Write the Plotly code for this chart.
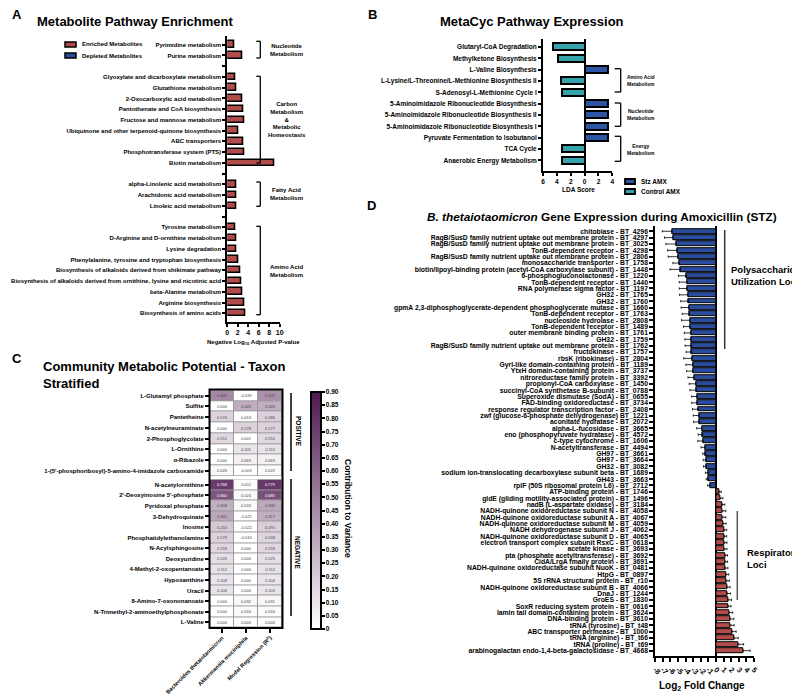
import plotly.graph_objects as go

W, H = 800, 695
FONT = "Arial, 'Liberation Sans', Helvetica, sans-serif"
RED = "#b24c4a"
BLUE = "#2b4c9c"
TEAL = "#36a3ac"
SBLUE = "#2c55a4"

# ---------------- Panel A data ----------------
a_pathways = [
    "Pyrimidine metabolism", "Purine metabolism", " ",
    "Glyoxylate and dicarboxylate metabolism", "Glutathione metabolism",
    "2-Oxocarboxylic acid metabolism", "Pantothenate and CoA biosynthesis",
    "Fructose and mannose metabolism",
    "Ubiquinone and other terpenoid-quinone biosynthesis", "ABC transporters",
    "Phosphotransferase system (PTS)", "Biotin metabolism", "  ",
    "alpha-Linolenic acid metabolism", "Arachidonic acid metabolism",
    "Linoleic acid metabolism", "   ",
    "Tyrosine metabolism", "D-Arginine and D-ornithine metabolism",
    "Lysine degradation", "Phenylalanine, tyrosine and tryptophan biosynthesis",
    "Biosynthesis of alkaloids derived from shikimate pathway",
    "Biosynthesis of alkaloids derived from ornithine, lysine and nicotinic acid",
    "beta-Alanine metabolism", "Arginine biosynthesis", "Biosynthesis of amino acids",
]
a_values = [1.3, 2.8, None, 1.6, 1.7, 2.9, 3.0, 3.15, 2.1, 3.0, 3.2, 9.0, None,
            1.8, 1.8, 1.8, None, 1.5, 1.7, 1.8, 2.1, 2.5, 2.6, 2.8, 3.2, 3.5]
a_ticks = [0, 2, 4, 6, 8, 10]

# ---------------- Panel B data ----------------
b_pathways = [
    "Glutaryl-CoA Degradation", "Methylketone Biosynthesis", "L-Valine Biosynthesis",
    "L-Lysine/L-Threonine/L-Methionine Biosynthesis II", "S-Adenosyl-L-Methionine Cycle I",
    "5-Aminoimidazole Ribonucleotide Biosynthesis",
    "5-Aminoimidazole Ribonucleotide Biosynthesis II",
    "5-Aminoimidazole Ribonucleotide Biosynthesis I",
    "Pyruvate Fermentation to Isobutanol", "TCA Cycle", "Anaerobic Energy Metabolism",
]
b_lda = [-4.6, -3.9, 3.4, -3.4, -3.3, 3.4, 3.4, 3.35, 3.35, -3.3, -3.2]
b_tickvals = [-6, -4, -2, 0, 2, 4]
b_ticktext = ["6", "4", "2", "0", "2", "4"]

# ---------------- Panel C data ----------------
c_columns = ["Bacteroides thetaiotaomicron", "Akkermansia muciniphila",
             "Model Regression (R<sup>2</sup>)"]
c_pos_metabolites = [
    "L-Glutamyl phosphate", "Sulfite", "Pantetheine", "N-acetylneuraminate",
    "2-Phosphoglycolate", "L-Ornithine", "α-Ribazole",
    "1-(5'-phosphoribosyl)-5-amino-4-imidazole carboxamide",
]
c_pos_values = [
    [0.465, -0.039, 0.431], [0.000, 0.320, 0.320], [0.174, 0.013, 0.186],
    [0.000, 0.178, 0.177], [0.151, 0.001, 0.152], [0.000, 0.105, 0.115],
    [0.000, 0.063, 0.063], [0.026, -0.003, 0.022],
]
c_neg_metabolites = [
    "N-acetylornithine", "2'-Deoxyinosine 5'-phosphate", "Pyridoxal phosphate",
    "3-Dehydroquinate", "Inosine", "Phosphatidylethanolamine", "N-Acylsphingosine",
    "Deoxyuridine", "4-Methyl-2-oxopentanoate", "Hypoxanthine", "Uracil",
    "8-Amino-7-oxononanoate", "N-Trimethyl-2-aminoethylphosphonate", "L-Valine",
]
c_neg_values = [
    [0.768, 0.011, 0.779], [0.660, 0.024, 0.685], [0.308, 0.024, 0.339],
    [0.345, -0.025, 0.317], [0.210, -0.022, 0.191], [0.179, -0.010, 0.168],
    [0.159, 0.000, 0.159], [0.126, 0.000, 0.125], [0.112, 0.000, 0.112],
    [0.108, 0.000, 0.104], [0.106, 0.000, 0.103], [0.000, 0.032, 0.031],
    [0.000, 0.016, 0.016], [0.000, 0.003, 0.004],
]
c_cbar_ticks = [round(0.05 * i, 2) for i in range(19)]

# ---------------- Panel D data ----------------
d_genes = [
    "chitobiase - BT_4296",
    "RagB/SusD family nutrient uptake out membrane protein - BT_4297",
    "RagB/SusD family nutrient uptake out membrane protein - BT_3025",
    "TonB-dependent receptor - BT_4298",
    "RagB/SusD family nutrient uptake out membrane protein - BT_2806",
    "monosaccharide transporter - BT_1758",
    "biotin/lipoyl-binding protein (acetyl-CoA carboxylase subunit) - BT_1448",
    "6-phosphogluconolactonase - BT_1220",
    "TonB-dependent receptor - BT_1440",
    "RNA polymerase sigma factor - BT_1197",
    "GH32 - BT_1765",
    "GH32 - BT_1760",
    "gpmA 2,3-diphosphoglycerate-dependent phosphoglycerate mutase - BT_1660",
    "TonB-dependent receptor - BT_1763",
    "nucleoside hydrolase - BT_2808",
    "TonB-dependent receptor - BT_1489",
    "outer membrane binding protein - BT_1761",
    "GH32 - BT_1759",
    "RagB/SusD family nutrient uptake out membrane protein - BT_1762",
    "fructokinase - BT_1757",
    "rbsK (ribokinase) - BT_2804",
    "GyrI-like domain-containing protein - BT_1189",
    "YtxH domain-containing protein - BT_3737",
    "nitroreductase family protein - BT_3392",
    "propionyl-CoA carboxylase - BT_1450",
    "succinyl-CoA synthetase B-subunit - BT_0788",
    "Superoxide dismutase (SodA) - BT_0655",
    "FAD-binding oxidoreductase - BT_3734",
    "response regulator transcription factor - BT_2408",
    "zwf (glucose-6-phosphate dehydrogenase) BT_1221",
    "aconitate hydratase - BT_2072",
    "alpha-L-fucosidase - BT_3665",
    "eno (phosphopyruvate hydratase) - BT_4572",
    "c-type cytochrome - BT_1606",
    "N-acetyltransferase - BT_4494",
    "GH97 - BT_3661",
    "GH97 - BT_3664",
    "GH32 - BT_3082",
    "sodium ion-translocating decarboxylase subunit beta - BT_1689",
    "GH43 - BT_3663",
    "rplF (50S ribosomal protein L6) - BT_2712",
    "ATP-binding protein - BT_1746",
    "gldE (gliding motility-associated protein) - BT_1496",
    "nadB (L-aspartate oxidase) - BT_3184",
    "NADH-quinone oxidoreductase subunit N - BT_4058",
    "NADH-quinone oxidoreductase subunit A - BT_4067",
    "NADH-quinone oxidoreductase subunit M - BT_4059",
    "NADH dehydrogenase subunit J - BT_4062",
    "NADH-quinone oxidoreductase subunit D - BT_4065",
    "electron transport complex subunit RsxC - BT_0618",
    "acetate kinase - BT_3693",
    "pta (phosphate acetyltransferase) - BT_3692",
    "CidA/LrgA fmaily protein - BT_3691",
    "NADH-quinone oxidoreductase subunit NuoK - BT_0481",
    "HtpG - BT_0897",
    "5S rRNA structural protein - BT_r10",
    "NADH-quinone oxidoreductase subunit B - BT_4066",
    "DnaJ - BT_1244",
    "GroES - BT_1830",
    "SoxR reducing system protein - BT_0616",
    "lamin tail domain-containing protein - BT_3624",
    "DNA-binding protein - BT_3610",
    "tRNA (tyrosine) - BT_t48",
    "ABC transporter permease - BT_1000",
    "tRNA (arginine) - BT_t66",
    "tRNA (proline) - BT_t69",
    "arabinogalactan endo-1,4-beta-galactosidase - BT_4668",
]
d_log2fc = [
    -5.8, -5.6, -5.2, -5.1, -5.0, -4.8, -4.7, -3.9, -3.85, -3.8, -3.7, -3.6, -3.55,
    -3.5, -3.45, -3.4, -3.3, -3.3, -3.2, -3.2, -3.15, -3.05, -3.0, -2.9, -2.65, -2.6,
    -2.5, -2.45, -2.35, -2.25, -2.2, -1.85, -1.75, -1.7, -1.45, -1.35, -1.3, -1.25,
    -1.05, -1.0, -0.8,
    0.43, 0.6, 0.8, 0.88, 0.88, 0.92, 1.05, 1.1, 1.14, 1.14, 1.22, 1.22, 1.22, 1.32,
    1.4, 1.45, 1.49, 1.58, 1.58, 1.75, 1.84, 1.93, 2.1, 2.37, 2.98, 3.6,
]
d_err = [
    1.27, 1.18, 1.4, 1.27, 1.3, 0.88, 1.36, 1.05, 1.0, 1.05, 1.1, 1.05, 1.05, 0.96,
    1.1, 0.88, 0.88, 0.8, 0.88, 0.75, 1.1, 0.92, 0.88, 0.8, 0.88, 0.83, 0.7, 0.75,
    0.75, 0.75, 0.75, 0.7, 0.6, 0.7, 0.53, 0.4, 0.4, 0.4, 0.35, 0.3, 0.3,
    0.25, 0.3, 0.35, 0.4, 0.4, 0.4, 0.35, 0.3, 0.3, 0.3, 0.3, 0.3, 0.35, 0.35, 0.35,
    0.4, 0.4, 0.45, 0.4, 0.45, 0.5, 0.45, 0.55, 0.55, 0.65, 0.9,
]
d_ticks = list(range(-8, 6))


# ---------------- helpers (pixel -> paper) ----------------
def px(x):
    return x / W


def py(y):
    return 1 - y / H


def xdom(a, b):
    return [a / W, b / W]


def ydom(top, bottom):
    return [1 - bottom / H, 1 - top / H]


annotations = []
shapes = []


def ann(text, x, y, size, xanchor="center", yanchor="middle", angle=0,
        color="black", align="center"):
    annotations.append(dict(
        text=text, x=px(x), y=py(y), xref="paper", yref="paper", showarrow=False,
        xanchor=xanchor, yanchor=yanchor, textangle=angle, align=align,
        font=dict(size=size, family=FONT, color=color, weight="bold"),
    ))


def seg(x0, y0, x1, y1, w=1.5, color="black"):
    shapes.append(dict(type="line", xref="paper", yref="paper",
                       x0=px(x0), y0=py(y0), x1=px(x1), y1=py(y1),
                       line=dict(color=color, width=w)))


def rect(x0, y0, x1, y1, fill, lw=1.5, lc="black", layer="above"):
    shapes.append(dict(type="rect", xref="paper", yref="paper", layer=layer,
                       x0=px(x0), y0=py(y0), x1=px(x1), y1=py(y1),
                       fillcolor=fill, line=dict(color=lc, width=lw)))


def bracket(x, y0, y1, tick=4, w=1.3):
    seg(x, y0, x, y1, w)
    seg(x - tick, y0, x, y0, w)
    seg(x - tick, y1, x, y1, w)


fig = go.Figure()

# ---------------- Panel A ----------------
fig.add_trace(go.Bar(
    x=a_values, y=a_pathways, orientation="h", width=0.6,
    marker=dict(color=RED, line=dict(color="black", width=1.6)),
    xaxis="x", yaxis="y", showlegend=False,
))

# ---------------- Panel B ----------------
fig.add_trace(go.Bar(
    x=b_lda, y=b_pathways, orientation="h", width=0.62,
    marker=dict(color=[SBLUE if v > 0 else TEAL for v in b_lda],
                line=dict(color="black", width=2)),
    xaxis="x2", yaxis="y2", showlegend=False,
))


# ---------------- Panel C ----------------
def fmt(rows):
    return [[f"{v:.3f}" for v in r] for r in rows]


fig.add_trace(go.Heatmap(
    z=c_pos_values, x=c_columns, y=c_pos_metabolites, coloraxis="coloraxis",
    text=fmt(c_pos_values), texttemplate="%{text}", textfont=dict(size=4),
    xgap=1, ygap=1, xaxis="x3", yaxis="y3",
))
fig.add_trace(go.Heatmap(
    z=c_neg_values, x=c_columns, y=c_neg_metabolites, coloraxis="coloraxis",
    text=fmt(c_neg_values), texttemplate="%{text}", textfont=dict(size=4),
    xgap=1, ygap=1, xaxis="x4", yaxis="y4",
))

# ---------------- Panel D ----------------
neg_idx = [i for i, v in enumerate(d_log2fc) if v < 0]
pos_idx = [i for i, v in enumerate(d_log2fc) if v >= 0]
fig.add_trace(go.Bar(
    x=[d_log2fc[i] for i in neg_idx], y=[d_genes[i] for i in neg_idx],
    orientation="h", width=0.78,
    marker=dict(color=BLUE, line=dict(color="black", width=1)),
    error_x=dict(type="data", symmetric=False, array=[0] * len(neg_idx),
                 arrayminus=[d_err[i] for i in neg_idx], color="black",
                 thickness=0.8, width=1.2),
    xaxis="x5", yaxis="y5", showlegend=False,
))
fig.add_trace(go.Bar(
    x=[d_log2fc[i] for i in pos_idx], y=[d_genes[i] for i in pos_idx],
    orientation="h", width=0.78,
    marker=dict(color=RED, line=dict(color="black", width=1)),
    error_x=dict(type="data", symmetric=False, array=[d_err[i] for i in pos_idx],
                 arrayminus=[0] * len(pos_idx), color="black",
                 thickness=0.8, width=1.2),
    xaxis="x5", yaxis="y5", showlegend=False,
))


def tf(s):
    return dict(size=s, family=FONT, color="black", weight="bold")


common_x = dict(showgrid=False, showline=True, linecolor="black", linewidth=2,
                ticks="outside", tickcolor="black", fixedrange=True, automargin=False)
common_y = dict(showgrid=False, showline=True, linecolor="black", linewidth=2,
                ticks="outside", tickcolor="black", fixedrange=True,
                type="category", automargin=False)

layout = dict(
    template="none",
    width=W, height=H, margin=dict(l=0, r=0, t=0, b=0, autoexpand=False),
    paper_bgcolor="white", plot_bgcolor="white",
    font=dict(family=FONT, color="black"),
    showlegend=False, bargap=0,
    # A
    xaxis=dict(common_x, domain=xdom(219.3, 271.7), range=[0, 10], tickvals=a_ticks,
               ticklen=3, tickwidth=1.5, tickfont=tf(7), zeroline=False, anchor="y"),
    yaxis=dict(common_y, domain=ydom(28.1, 313.9), categoryorder="array",
               categoryarray=a_pathways, tickmode="array", tickvals=a_pathways,
               range=[25.8, -0.8], ticklen=3, tickwidth=1.5,
               tickfont=tf(6), anchor="x"),
    # B
    xaxis2=dict(common_x, domain=xdom(535, 604.3), range=[-6, 4], tickvals=b_tickvals,
                ticktext=b_ticktext, ticklen=3, tickwidth=1.5, tickfont=tf(6.5),
                zeroline=True, zerolinecolor="black", zerolinewidth=2, anchor="y2"),
    yaxis2=dict(common_y, domain=ydom(31.1, 163.1), categoryorder="array",
                categoryarray=b_pathways, tickmode="array", tickvals=b_pathways,
                range=[10.95, -0.7], ticklen=3, tickwidth=1.5,
                tickfont=tf(6.5), anchor="x2"),
    # C positive
    xaxis3=dict(domain=xdom(202, 274), showgrid=False, showline=False, ticks="",
                showticklabels=False, fixedrange=True, anchor="y3", type="category",
                automargin=False),
    yaxis3=dict(domain=ydom(382.3, 468.1), showgrid=False, showline=False,
                ticks="outside", ticklen=4, tickwidth=2, tickcolor="black",
                tickfont=tf(6), range=[7.5, -0.5], type="category", anchor="x3",
                tickmode="array", tickvals=c_pos_metabolites,
                fixedrange=True, automargin=False),
    # C negative
    xaxis4=dict(domain=xdom(202, 274), showgrid=False, showline=False, ticks="outside",
                ticklen=4, tickwidth=2, tickcolor="black", tickangle=-45,
                tickfont=tf(5.6), fixedrange=True, anchor="y4", type="category",
                automargin=False),
    yaxis4=dict(domain=ydom(471.4, 619.6), showgrid=False, showline=False,
                ticks="outside", ticklen=4, tickwidth=2, tickcolor="black",
                tickfont=tf(6), range=[13.5, -0.5], type="category", anchor="x4",
                tickmode="array", tickvals=c_neg_metabolites,
                fixedrange=True, automargin=False),
    coloraxis=dict(
        cmin=0, cmax=0.9,
        colorscale=[[0, "#ffffff"], [1, "#4e1950"]],
        colorbar=dict(
            x=px(303), xanchor="left", y=py(384), yanchor="top",
            len=237, lenmode="pixels", thickness=10, thicknessmode="pixels",
            xpad=0, ypad=0, outlinewidth=2, outlinecolor="black",
            tickvals=c_cbar_ticks,
            ticktext=["0"] + [f"{v:.2f}" for v in c_cbar_ticks[1:]],
            ticks="outside", ticklen=3, tickwidth=1.5, tickcolor="black",
            tickfont=tf(6.5),
        ),
    ),
    # D
    xaxis5=dict(common_x, domain=xdom(647.3, 746), range=[-8, 5], tickvals=d_ticks,
                ticktext=[str(t) for t in d_ticks], ticklen=4, tickwidth=2,
                tickangle=45, tickfont=tf(7.5), zeroline=True, zerolinecolor="black",
                zerolinewidth=2, anchor="y5"),
    yaxis5=dict(common_y, domain=ydom(218.2, 648.4), categoryorder="array",
                categoryarray=d_genes, tickmode="array", tickvals=d_genes,
                range=[66.9, -0.8], ticklen=4, tickwidth=2,
                tickfont=tf(6.8), anchor="x5"),
)

# ---------- Panel letters and titles ----------
ann("A", 2, 7, 13, xanchor="left")
ann("B", 358, 7, 13, xanchor="left")
ann("C", 2, 350, 13, xanchor="left")
ann("D", 357, 197, 13, xanchor="left")
ann("Metabolite Pathway Enrichment", 27, 14, 13, xanchor="left")
ann("MetaCyc Pathway Expression", 430, 14, 13, xanchor="left")
ann("Community Metabolic Potential - Taxon<br>Stratified", 33, 367, 13,
    xanchor="left", align="left")
ann("<i>B. thetaiotaomicron</i> Gene Expression during Amoxicillin (STZ)", 594, 209, 11.8)

# ---------- Panel A extras ----------
rect(57, 34, 68, 39, RED, 1.5)
rect(57, 45, 68, 50, BLUE, 1.5)
ann("Enriched Metabolites", 72, 36.5, 6, xanchor="left")
ann("Depleted Metabolites", 72, 47.5, 6, xanchor="left")
ann("Negative Log<sub>10</sub> Adjusted P-value", 245.5, 334, 6)
bracket(252.3, 33.3, 50)
ann("Nucleotide<br>Metabolism", 278, 42, 6)
bracket(252.3, 68.3, 155)
ann("Carbon<br>Metabolism<br>&<br>Metabolic<br>Homeostasis", 279, 112, 6)
bracket(252.3, 174, 198.3)
ann("Fatty Acid<br>Metabolism", 278, 186.5, 6)
bracket(252.3, 218.3, 306.7)
ann("Amino Acid<br>Metabolism", 278, 262.5, 6)

# ---------- Panel B extras ----------
ann("LDA Score", 570, 181, 6.5)
bracket(612.7, 60.7, 84, tick=6)
ann("Amino Acid<br>Metabolism", 633, 73, 5)
bracket(612.7, 95, 118.3, tick=6)
ann("Nucleotide<br>Metabolism", 633, 106.5, 5)
bracket(612.7, 128.3, 153.3, tick=6)
ann("Energy<br>Metabolism", 633, 141, 5)
rect(617, 171, 627, 176, SBLUE, 1.8)
rect(617, 181, 627, 186, TEAL, 1.8)
ann("Stz AMX", 631, 173.5, 6.5, xanchor="left")
ann("Control AMX", 631, 183.5, 6.5, xanchor="left")

# ---------- Panel C extras ----------
rect(202, 382.3, 274, 468.1, "#9a9a9a", 0, "#9a9a9a", layer="below")
rect(202, 471.4, 274, 619.6, "#9a9a9a", 0, "#9a9a9a", layer="below")
rect(201.5, 381.5, 274.5, 620, "rgba(0,0,0,0)", 2)
seg(283, 385, 283, 463, 1.5)
seg(283, 471, 283, 608, 1.5)
ann("POSITIVE", 290, 423, 6.5, angle=90)
ann("NEGATIVE", 290, 544, 6.5, angle=90)
ann("Contribution to Variance", 340, 500, 8.5, angle=90)

# ---------- Panel D extras ----------
seg(716.7, 222, 716.7, 341, 1.5, "#333333")
seg(729.3, 503, 729.3, 592, 1.5, "#555555")
ann("Polysaccharide<br>Utilization Loci", 721, 267, 9.5, xanchor="left", align="left")
ann("Respiratory<br>Loci", 737, 550, 9.5, xanchor="left", align="left")
ann("Log<sub>2</sub> Fold Change", 693.5, 678, 10)

layout["annotations"] = annotations
layout["shapes"] = shapes
fig.update_layout(**layout)
fig.write_html("out.html")
